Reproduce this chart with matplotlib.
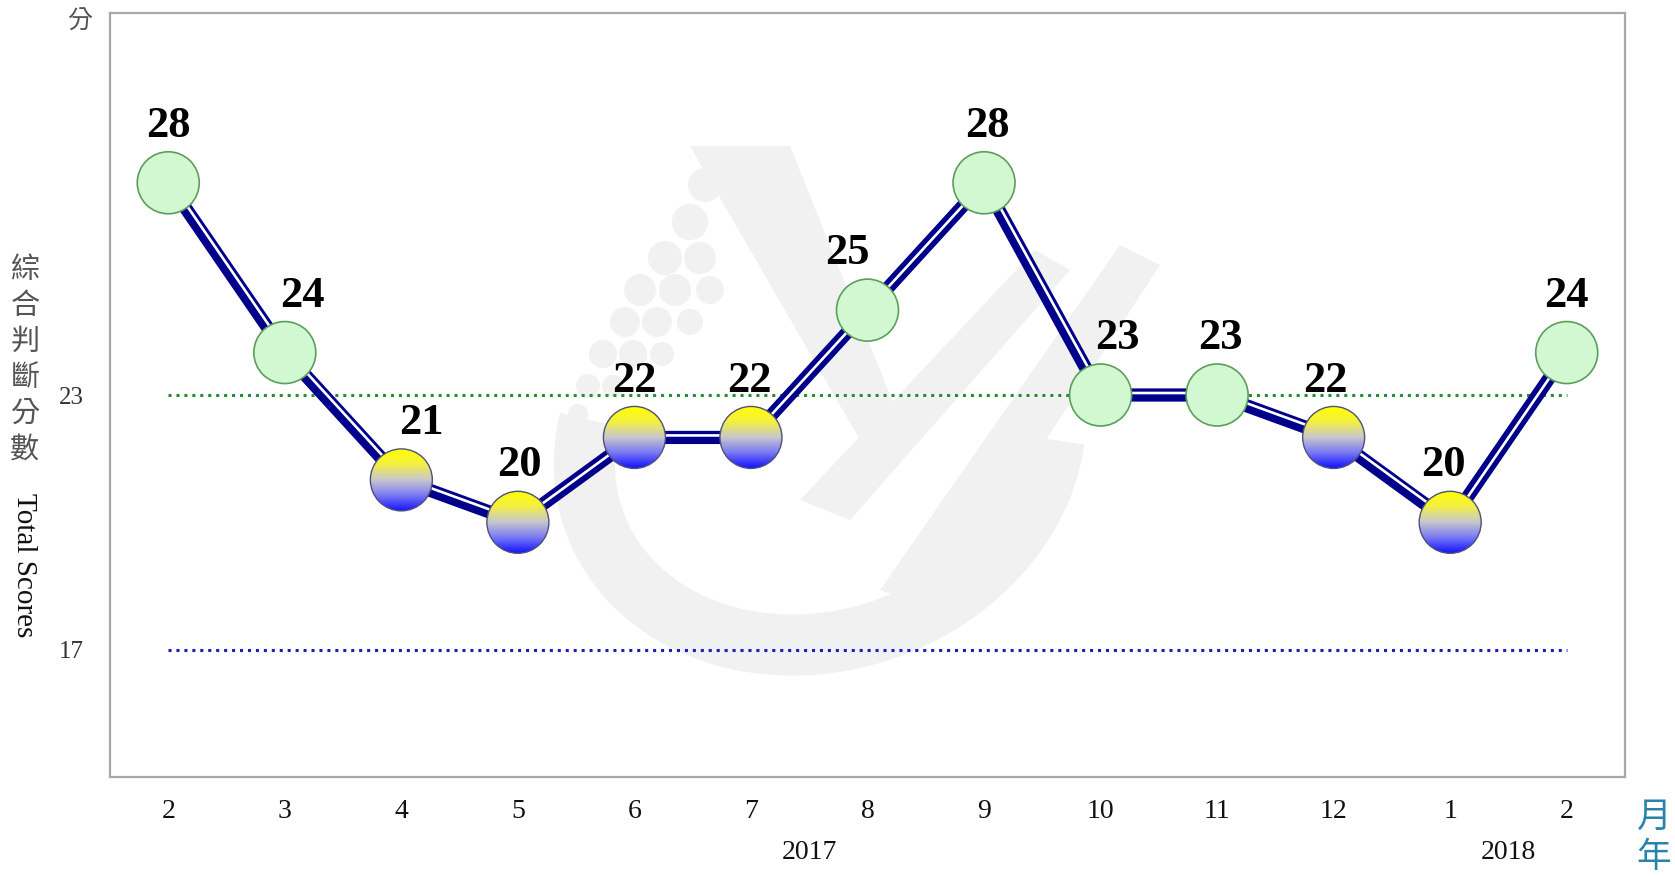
import numpy as np
import matplotlib.pyplot as plt
from matplotlib import transforms
from matplotlib.patches import Ellipse, Arc, Circle, Polygon
from matplotlib.colors import LinearSegmentedColormap

# data
months = ['2', '3', '4', '5', '6', '7', '8', '9', '10', '11', '12', '1', '2']
scores = [28, 24, 21, 20, 22, 22, 25, 28, 23, 23, 22, 20, 24]
years = ['2017', '2018']
year_pos = [5.5, 11.5]
upper_line = 23
lower_line = 17
label_dx = [0, 18, 20, 2, 0, -2, -20, 3, 17, 3, -8, -7, 0]  # px nudges of value labels

fig = plt.figure(figsize=(16.75, 8.76), dpi=100)
fig.patch.set_facecolor('white')

# faint watermark, drawn in pixel coords
bg = fig.add_axes([0, 0, 1, 1], zorder=0)
bg.set_xlim(0, 1675)
bg.set_ylim(876, 0)
bg.axis('off')
wm = '#f1f1f1'
bg.add_patch(Arc((820, 440), 480, 400, angle=-20, theta1=20, theta2=205, lw=44, color=wm))
bg.add_patch(Polygon([(690, 146), (790, 146), (900, 420), (860, 440)], closed=True, color=wm, lw=0))
bg.add_patch(Polygon([(800, 500), (850, 520), (1070, 270), (1035, 250)], closed=True, color=wm, lw=0))
bg.add_patch(Polygon([(880, 590), (935, 610), (1160, 265), (1120, 245)], closed=True, color=wm, lw=0))
for cx, cy, r in [(705, 185, 17), (690, 222, 18), (665, 258, 17), (700, 258, 16),
                  (640, 290, 16), (675, 290, 16), (710, 290, 14), (625, 322, 15),
                  (657, 322, 15), (690, 322, 13), (603, 354, 14), (633, 354, 14),
                  (662, 354, 12), (588, 386, 12), (613, 386, 11), (578, 414, 10)]:
    bg.add_patch(Circle((cx, cy), r, color=wm, lw=0))

ax = fig.add_axes([110 / 1675, 1 - 777 / 876, 1515 / 1675, 764 / 876], zorder=1)
ax.set_facecolor('none')
ax.set_xlim(-0.5, 12.5)
ax.set_ylim(14, 32)
for s in ax.spines.values():
    s.set_color('#a8a8a8')
    s.set_linewidth(1.6)

x = np.arange(len(scores))

ax.hlines(upper_line, 0, 12, colors='#2e8b2e', linestyles=(0, (1, 1.6)), lw=2.2, zorder=1)
ax.hlines(lower_line, 0, 12, colors='#1c1cc0', linestyles=(0, (1, 1.6)), lw=2.2, zorder=1)

ax.plot(x, scores, color='#00008b', lw=9.5, solid_joinstyle='round', zorder=2)
off = transforms.offset_copy(ax.transData, fig=fig, x=1.5, y=2.0, units='dots')
ax.plot(x, scores, color='white', lw=1.9, transform=off, zorder=3)

# round markers, sized in pixels
p0 = ax.transData.transform((0, 0))
p1 = ax.transData.transform((1, 1))
sx, sy = p1 - p0
r_px = 31
w, h = 2 * r_px / sx, 2 * r_px / sy
cmap = LinearSegmentedColormap.from_list('yb', ['#ffff00', '#f4f040', '#c8c8cc', '#7a7af4', '#1414ff'])
grad = np.linspace(0, 1, 200).reshape(-1, 1)
for i, v in zip(x, scores):
    if v >= upper_line:
        ax.add_patch(Ellipse((i, v), w, h, facecolor='#d2f8d2', edgecolor='#5c9e5c', lw=1.2, zorder=4))
    else:
        e = Ellipse((i, v), w, h, facecolor='none', edgecolor='#50507a', lw=1.0, zorder=5)
        ax.add_patch(e)
        im = ax.imshow(grad, cmap=cmap, aspect='auto', extent=(i - w / 2, i + w / 2, v - h / 2, v + h / 2),
                       origin='upper', zorder=4, interpolation='bilinear')
        im.set_clip_path(e)
    ax.annotate(str(v), (i, v), xytext=(label_dx[i] * 0.72, 41), textcoords='offset points',
                ha='center', va='center', fontsize=32, fontweight='bold',
                family='Liberation Serif', color='black', zorder=6)

ax.set_xlim(-0.5, 12.5)
ax.set_ylim(14, 32)

ax.set_xticks(x)
ax.set_xticklabels(months, family='Liberation Serif', fontsize=20, color='#111111')
ax.set_yticks([lower_line, upper_line])
ax.set_yticklabels([str(lower_line), str(upper_line)], family='Liberation Serif', fontsize=18, color='#333333')
ax.tick_params(axis='x', length=0, pad=16)
ax.tick_params(axis='y', length=0, pad=19)

yt = transforms.blended_transform_factory(ax.transData, ax.transAxes)
for xp, yr in zip(year_pos, years):
    ax.text(xp, -0.099, yr, transform=yt, ha='center', va='center',
            family='Liberation Serif', fontsize=20, color='#111111')

cjk = ['Noto Sans CJK TC', 'DejaVu Sans']
fig.text(80 / 1675, 1 - 22 / 876, '分', ha='center', va='center', family=cjk, fontsize=18, color='#555555')
for k, ch in enumerate('綜合判斷分數'):
    fig.text(25 / 1675, 1 - (270 + k * 36) / 876, ch, ha='center', va='center',
             family=cjk, fontsize=21, color='#555555')
fig.text(24 / 1675, 1 - 565 / 876, 'Total Scores', rotation=270, ha='center', va='center',
         family='Liberation Serif', fontsize=21, color='#111111')

fig.text(1654 / 1675, 1 - 817 / 876, '月', ha='center', va='center', family=cjk, fontsize=25,
         fontweight='medium', color='#2a84aa')
fig.text(1654 / 1675, 1 - 858 / 876, '年', ha='center', va='center', family=cjk, fontsize=25,
         fontweight='medium', color='#2a84aa')

fig.savefig('out.png', dpi=100)
